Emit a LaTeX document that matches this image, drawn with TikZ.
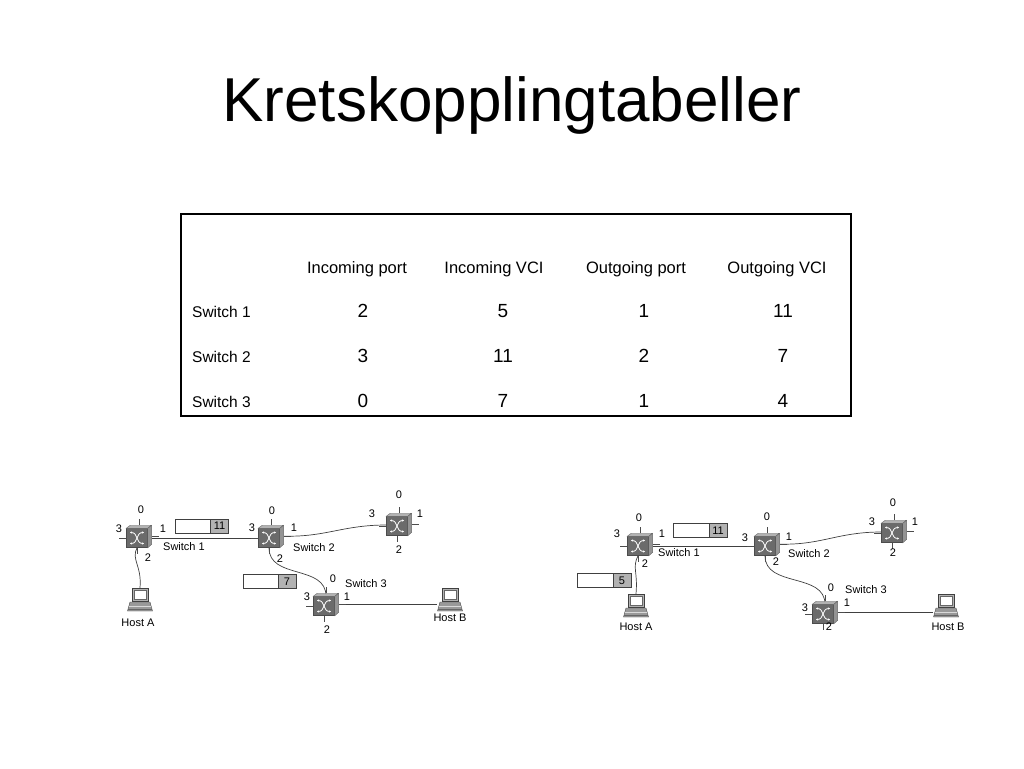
\documentclass[tikz,border=0pt]{standalone}
\usepackage{fontspec}
\setmainfont{Liberation Sans}
\usetikzlibrary{arrows.meta,backgrounds}

\tikzset{
  sw/.style={draw=black!70, fill=black!58, minimum width=21pt, minimum height=19pt, inner sep=0pt, line width=0.5pt},
  small/.style={font=\fontsize{11}{12}\selectfont, inner sep=0pt},
  swname/.style={small, anchor=west},
  link/.style={draw=black!75, line width=0.7pt},
  tagw/.style={draw=black!75, fill=white, minimum width=36pt, minimum height=14pt, inner sep=0pt, line width=0.6pt},
  tagg/.style={draw=black!75, fill=black!30, minimum width=18pt, minimum height=14pt, inner sep=0pt, small, line width=0.6pt},
  host/.style={minimum width=25pt, minimum height=24pt, inner sep=0pt},
  hdr/.style={font=\fontsize{16.5}{18}\selectfont, inner sep=0pt, anchor=base},
  rowl/.style={font=\fontsize{15.5}{18}\selectfont, inner sep=0pt, anchor=base west},
  num/.style={font=\fontsize{19}{20}\selectfont, inner sep=0pt, anchor=base},
  xarrow/.style={white, line width=0.8pt, {Stealth[length=2.2pt,width=2.4pt]}-{Stealth[length=2.2pt,width=2.4pt]}},
  stub/.style={draw=black!70, line width=0.6pt},
}

\newcommand\swdeco[1]{%
  \filldraw[fill=black!30, draw=black!60, line width=0.4pt] (#1.north west) -- ++(4,-3) -- ++(21,0) -- (#1.north east) -- cycle;
  \filldraw[fill=black!42, draw=black!60, line width=0.4pt] (#1.north east) -- ++(4,-3) -- ++(0,19) -- (#1.south east) -- cycle;
  \draw[xarrow] ([shift={(-7,-5.5)}]#1.center) .. controls ([shift={(1.5,-5.5)}]#1.center) and ([shift={(-1.5,5.5)}]#1.center) .. ([shift={(7,5.5)}]#1.center);
  \draw[xarrow] ([shift={(-7,5.5)}]#1.center) .. controls ([shift={(1.5,5.5)}]#1.center) and ([shift={(-1.5,-5.5)}]#1.center) .. ([shift={(7,-5.5)}]#1.center);
  \draw[stub] ([shift={(2,-3)}]#1.north) -- ++(0,-6);
  \draw[stub] (#1.west) -- ++(-7,0);
  \draw[stub] ([shift={(4,-1.5)}]#1.east) -- ++(7,0);
  \draw[stub] (#1.south) -- ++(0,6);
}

\newcommand\hostdeco[1]{%
  \filldraw[fill=black!30, draw=black!75, line width=0.5pt] ([shift={(-8,-12)}]#1.center) rectangle ([shift={(8,1)}]#1.center);
  \filldraw[fill=white, draw=black!60, line width=0.4pt] ([shift={(-6,-10)}]#1.center) rectangle ([shift={(6,-1)}]#1.center);
  \filldraw[fill=black!40, draw=black!70, line width=0.4pt] ([shift={(-10,2)}]#1.center) -- ([shift={(10,2)}]#1.center) -- ([shift={(12.5,11)}]#1.center) -- ([shift={(-12.5,11)}]#1.center) -- cycle;
  \draw[black!15, line width=0.6pt] ([shift={(-11,6)}]#1.center) -- ([shift={(11,6)}]#1.center);
  \draw[black!60, line width=0.6pt] ([shift={(-12,9)}]#1.center) -- ([shift={(12,9)}]#1.center);
}

\begin{document}
\begin{tikzpicture}[x=1pt,y=-1pt]
\useasboundingbox (0,0) rectangle (1024,768);

% title
\node[font=\fontsize{62}{70}\selectfont, inner sep=0pt, anchor=base] (title) at (512,121) {Kretskopplingtabeller};

% table
\node[draw, line width=1.2pt, minimum width=670pt, minimum height=202pt, inner sep=0pt] (tbl) at (516,315) {};
\node[hdr] (h1) at (357,273) {Incoming port};
\node[hdr] (h2) at (494,273) {Incoming VCI};
\node[hdr] (h3) at (636,273) {Outgoing port};
\node[hdr] (h4) at (777,273) {Outgoing VCI};
\node[rowl] (r1) at (192,317) {Switch 1};
\node[rowl] (r2) at (192,362) {Switch 2};
\node[rowl] (r3) at (192,407) {Switch 3};
\node[num] (c11) at (363,317) {2};
\node[num] (c12) at (503,317) {5};
\node[num] (c13) at (644,317) {1};
\node[num] (c14) at (783,317) {11};
\node[num] (c21) at (363,362) {3};
\node[num] (c22) at (503,362) {11};
\node[num] (c23) at (644,362) {2};
\node[num] (c24) at (783,362) {7};
\node[num] (c31) at (363,407) {0};
\node[num] (c32) at (503,407) {7};
\node[num] (c33) at (644,407) {1};
\node[num] (c34) at (783,407) {4};

% ===== left diagram =====
\node[sw] (ls1) at (137,538) {};
\node[sw] (ls2) at (269,538) {};
\node[sw] (ls4) at (397,526) {};
\node[sw] (ls3) at (324,606) {};
\node[host] (lhA) at (140,600) {};
\node[host] (lhB) at (450,600) {};

\begin{scope}[on background layer]
  \draw[link] (ls1.east) -- (ls2.west);
  \draw[link] ([yshift=2]ls2.east) .. controls +(45,2) and +(-45,0) .. ([yshift=1]ls4.west);
  \draw[link] (ls2.south) .. controls +(0,32) and +(0,-32) .. ([xshift=2]ls3.north);
  \draw[link] (ls1.south) .. controls +(-6,12) and +(2,-22) .. (lhA.north);
  \draw[link] ([yshift=2]ls3.east) -- ([yshift=2]ls3.east -| lhB.west);
\end{scope}
\swdeco{ls1}\swdeco{ls2}\swdeco{ls4}\swdeco{ls3}
\hostdeco{lhA}\hostdeco{lhB}

\node[small] (ls1p0) at (141,510) {0};
\node[small] (ls1p3) at (119,529) {3};
\node[small] (ls1p1) at (163,529) {1};
\node[small] (ls1p2) at (148,558) {2};
\node[swname] (ls1n) at (163,547) {Switch 1};
\node[small] (ls2p0) at (272,511) {0};
\node[small] (ls2p3) at (252,528) {3};
\node[small] (ls2p1) at (294,528) {1};
\node[small] (ls2p2) at (280,559) {2};
\node[swname] (ls2n) at (293,548) {Switch 2};
\node[small] (ls4p0) at (399,495) {0};
\node[small] (ls4p3) at (372,514) {3};
\node[small] (ls4p1) at (420,514) {1};
\node[small] (ls4p2) at (399,550) {2};
\node[small] (ls3p0) at (333,579) {0};
\node[small] (ls3p3) at (307,597) {3};
\node[small] (ls3p1) at (347,597) {1};
\node[small] (ls3p2) at (327,630) {2};
\node[swname] (ls3n) at (345,584) {Switch 3};
\node[small] (lhAl) at (138,623) {Host A};
\node[small] (lhBl) at (450,618) {Host B};

\node[tagw] (lt1w) at (193,526) {};
\node[tagg] (lt1g) at (219.5,526) {11};
\node[tagw] (lt2w) at (261,581.5) {};
\node[tagg] (lt2g) at (287,581.5) {7};

% ===== right diagram =====
\node[sw] (rs1) at (638,546) {};
\node[sw] (rs2) at (765,546) {};
\node[sw] (rs4) at (892,533) {};
\node[sw] (rs3) at (823,614) {};
\node[host] (rhA) at (636,606) {};
\node[host] (rhB) at (946,606) {};

\begin{scope}[on background layer]
  \draw[link] (rs1.east) -- (rs2.west);
  \draw[link] ([yshift=2]rs2.east) .. controls +(45,2) and +(-45,0) .. ([yshift=1]rs4.west);
  \draw[link] (rs2.south) .. controls +(0,32) and +(0,-32) .. ([xshift=2]rs3.north);
  \draw[link] (rs1.south) .. controls +(-6,12) and +(2,-22) .. (rhA.north);
  \draw[link] ([yshift=2]rs3.east) -- ([yshift=2]rs3.east -| rhB.west);
\end{scope}
\swdeco{rs1}\swdeco{rs2}\swdeco{rs4}\swdeco{rs3}
\hostdeco{rhA}\hostdeco{rhB}

\node[small] (rs1p0) at (639,518) {0};
\node[small] (rs1p3) at (617,534) {3};
\node[small] (rs1p1) at (662,534) {1};
\node[small] (rs1p2) at (645,564) {2};
\node[swname] (rs1n) at (658,553) {Switch 1};
\node[small] (rs2p0) at (767,517) {0};
\node[small] (rs2p3) at (745,538) {3};
\node[small] (rs2p1) at (789,537) {1};
\node[small] (rs2p2) at (776,562) {2};
\node[swname] (rs2n) at (788,554) {Switch 2};
\node[small] (rs4p0) at (893,503) {0};
\node[small] (rs4p3) at (872,522) {3};
\node[small] (rs4p1) at (915,522) {1};
\node[small] (rs4p2) at (893,553) {2};
\node[small] (rs3p0) at (831,588) {0};
\node[small] (rs3p3) at (805,608) {3};
\node[small] (rs3p1) at (847,603) {1};
\node[small] (rs3p2) at (829,627) {2};
\node[swname] (rs3n) at (845,590) {Switch 3};
\node[small] (rhAl) at (636,627) {Host A};
\node[small] (rhBl) at (948,627) {Host B};

\node[tagw] (rt1w) at (691,530.5) {};
\node[tagg] (rt1g) at (718,530.5) {11};
\node[tagw] (rt2w) at (595,580.5) {};
\node[tagg] (rt2g) at (622,580.5) {5};
\end{tikzpicture}
\end{document}
